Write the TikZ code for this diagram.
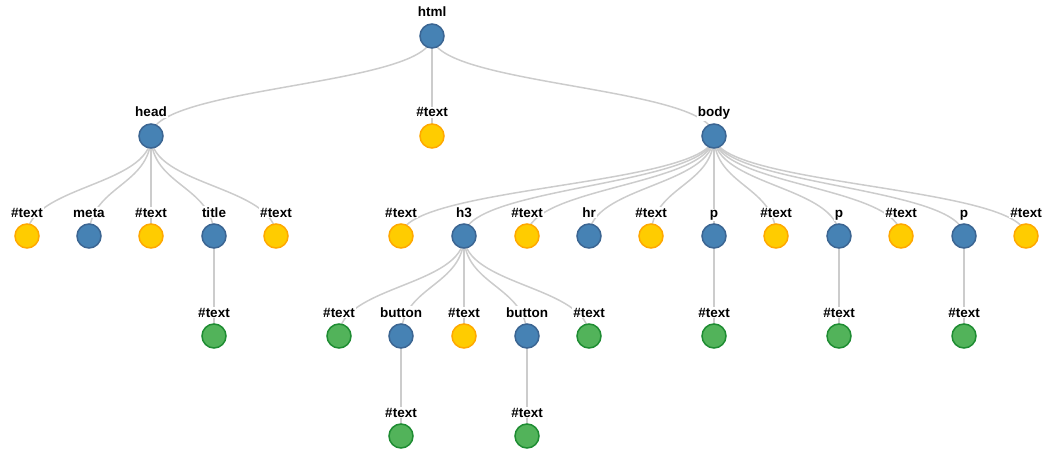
\documentclass[tikz,border=0pt]{standalone}
\usepackage{fontspec}
\setmainfont{Liberation Sans}
\usetikzlibrary{calc, backgrounds}

\definecolor{elemblue}{HTML}{4682B4}
\definecolor{elemline}{HTML}{3B6592}
\definecolor{textyellow}{HTML}{FFCC00}
\definecolor{textorange}{HTML}{FFA800}
\definecolor{leafgreen}{HTML}{52B35A}
\definecolor{leafline}{HTML}{1E8C32}
\definecolor{linkgray}{HTML}{CCCCCC}

% one tree node: name, x, y, style, tag
\newcommand{\domnode}[5]{%
  \node[#4] (#1) at (#2,#3) {};
  \node[lbl] (#1-tag) at (#2,{#3-19}) {#5};}
% vertical diagonal link from parent to child
\newcommand{\treelink}[2]{%
  \draw[link] let \p1=(#1.center), \p2=(#2.center), \p3=($(\p1)!0.5!(\p2)$) in
    (\p1) .. controls (\x1,\y3) and (\x2,\y3) .. (\p2);}

\begin{document}
\begin{tikzpicture}[
  x=1pt, y=-1pt,
  every node/.style={font=\fontsize{13.5}{16}\selectfont\bfseries},
  dot/.style={circle, minimum size=24pt, inner sep=0pt, line width=1.5pt},
  elem/.style={dot, fill=elemblue, draw=elemline},
  txt/.style={dot, fill=textyellow, draw=textorange},
  leaf/.style={dot, fill=leafgreen, draw=leafline},
  lbl/.style={anchor=base, fill=white, inner sep=0.8pt},
  link/.style={draw=linkgray, line width=1.5pt}
]
\useasboundingbox (0,0) rectangle (1064,457);

% root and first level
\domnode{html}{432}{36}{elem}{html}
\domnode{head}{151}{136}{elem}{head}
\domnode{htxt}{432}{136}{txt}{\#text}
\domnode{body}{714}{136}{elem}{body}

% children of head
\domnode{hd1}{27}{236}{txt}{\#text}
\domnode{meta}{89}{236}{elem}{meta}
\domnode{hd2}{151}{236}{txt}{\#text}
\domnode{title}{214}{236}{elem}{title}
\domnode{hd3}{276}{236}{txt}{\#text}
\domnode{titletxt}{214}{336}{leaf}{\#text}

% children of body
\domnode{bd1}{401}{236}{txt}{\#text}
\domnode{h3}{464}{236}{elem}{h3}
\domnode{bd2}{527}{236}{txt}{\#text}
\domnode{hr}{589}{236}{elem}{hr}
\domnode{bd3}{651}{236}{txt}{\#text}
\domnode{pa}{714}{236}{elem}{p}
\domnode{bd4}{776}{236}{txt}{\#text}
\domnode{pb}{839}{236}{elem}{p}
\domnode{bd5}{901}{236}{txt}{\#text}
\domnode{pc}{964}{236}{elem}{p}
\domnode{bd6}{1026}{236}{txt}{\#text}

% children of h3
\domnode{h3a}{339}{336}{leaf}{\#text}
\domnode{btna}{401}{336}{elem}{button}
\domnode{h3b}{464}{336}{txt}{\#text}
\domnode{btnb}{527}{336}{elem}{button}
\domnode{h3c}{589}{336}{leaf}{\#text}

% leaves
\domnode{btnatxt}{401}{436}{leaf}{\#text}
\domnode{btnbtxt}{527}{436}{leaf}{\#text}
\domnode{patxt}{714}{336}{leaf}{\#text}
\domnode{pbtxt}{839}{336}{leaf}{\#text}
\domnode{pctxt}{964}{336}{leaf}{\#text}

% links behind everything
\begin{scope}[on background layer]
  \foreach \c in {head, htxt, body} {\treelink{html}{\c}}
  \foreach \c in {hd1, meta, hd2, title, hd3} {\treelink{head}{\c}}
  \treelink{title}{titletxt}
  \foreach \c in {bd1, h3, bd2, hr, bd3, pa, bd4, pb, bd5, pc, bd6} {\treelink{body}{\c}}
  \foreach \c in {h3a, btna, h3b, btnb, h3c} {\treelink{h3}{\c}}
  \treelink{btna}{btnatxt}
  \treelink{btnb}{btnbtxt}
  \treelink{pa}{patxt}
  \treelink{pb}{pbtxt}
  \treelink{pc}{pctxt}
\end{scope}

\end{tikzpicture}
\end{document}
